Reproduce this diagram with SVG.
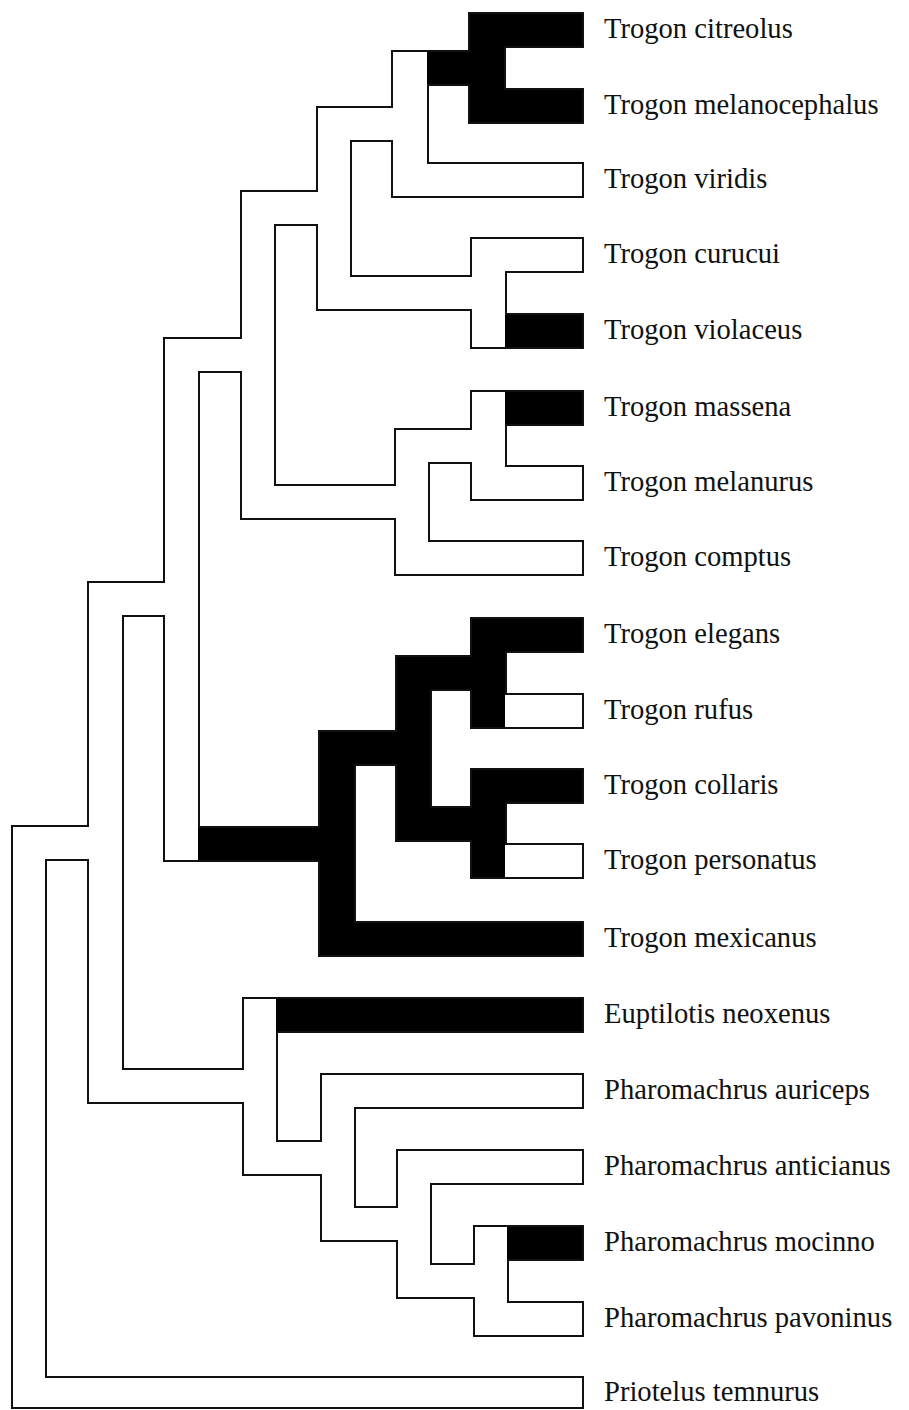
<svg xmlns="http://www.w3.org/2000/svg" xmlns:xlink="http://www.w3.org/1999/xlink" width="909" height="1410" viewBox="0 0 909 1410">
<style>
.outline{fill:#111;stroke:#111;stroke-width:4;stroke-linejoin:miter}
.inner{fill:#fff;stroke:none}
.state{fill:#000;stroke:none}
.lbl{font-family:"Liberation Serif","Times New Roman",serif;font-size:28.6px;fill:#111}
</style>
<defs>
<g id="tree">
<!-- horizontal branch bands -->
<rect x="427" y="52" width="77" height="32"/>
<rect x="427" y="164" width="155" height="32"/>
<rect x="504" y="14" width="78" height="32"/>
<rect x="504" y="90" width="78" height="32"/>
<rect x="350" y="108" width="77" height="32"/>
<rect x="350" y="277" width="155" height="32"/>
<rect x="505" y="239" width="77" height="32"/>
<rect x="505" y="315" width="77" height="32"/>
<rect x="274" y="192" width="76" height="32"/>
<rect x="274" y="486" width="154" height="32"/>
<rect x="428" y="430" width="77" height="32"/>
<rect x="428" y="542" width="154" height="32"/>
<rect x="505" y="392" width="77" height="32"/>
<rect x="505" y="467" width="77" height="32"/>
<rect x="198" y="339" width="76" height="32"/>
<rect x="198" y="828" width="156" height="32"/>
<rect x="354" y="732" width="76" height="32"/>
<rect x="354" y="923" width="228" height="32"/>
<rect x="430" y="657" width="75" height="32"/>
<rect x="430" y="808" width="75" height="32"/>
<rect x="505" y="619" width="77" height="32"/>
<rect x="505" y="695" width="77" height="32"/>
<rect x="505" y="770" width="77" height="32"/>
<rect x="505" y="845" width="77" height="32"/>
<rect x="122" y="583" width="76" height="32"/>
<rect x="122" y="1070" width="154" height="32"/>
<rect x="276" y="999" width="306" height="32"/>
<rect x="276" y="1142" width="78" height="32"/>
<rect x="354" y="1075" width="228" height="32"/>
<rect x="354" y="1208" width="76" height="32"/>
<rect x="430" y="1151" width="152" height="32"/>
<rect x="430" y="1265" width="77" height="32"/>
<rect x="507" y="1227" width="75" height="32"/>
<rect x="507" y="1303" width="75" height="32"/>
<rect x="45" y="827" width="77" height="32"/>
<rect x="45" y="1378" width="537" height="29"/>
<!-- node verticals -->
<rect x="470" y="14" width="34" height="108"/>
<rect x="393" y="52" width="34" height="144"/>
<rect x="472" y="239" width="33" height="108"/>
<rect x="318" y="108" width="32" height="201"/>
<rect x="472" y="392" width="33" height="107"/>
<rect x="396" y="430" width="32" height="144"/>
<rect x="242" y="192" width="32" height="326"/>
<rect x="165" y="339" width="33" height="521"/>
<rect x="320" y="732" width="34" height="223"/>
<rect x="397" y="657" width="33" height="183"/>
<rect x="472" y="619" width="33" height="108"/>
<rect x="472" y="770" width="33" height="107"/>
<rect x="89" y="583" width="33" height="519"/>
<rect x="244" y="999" width="32" height="175"/>
<rect x="322" y="1075" width="32" height="165"/>
<rect x="398" y="1151" width="32" height="146"/>
<rect x="475" y="1227" width="32" height="108"/>
<rect x="13" y="827" width="32" height="580"/>
</g>
</defs>
<g id="connectors">
<use xlink:href="#tree" href="#tree" class="outline"/>
<use xlink:href="#tree" href="#tree" class="inner"/>
<g id="state-black" class="state">
<rect x="427" y="52" width="77" height="32"/>
<rect x="504" y="14" width="78" height="32"/>
<rect x="504" y="90" width="78" height="32"/>
<rect x="470" y="14" width="34" height="108"/>
<rect x="505" y="315" width="77" height="32"/>
<rect x="505" y="392" width="77" height="32"/>
<rect x="198" y="828" width="156" height="32"/>
<rect x="320" y="732" width="34" height="223"/>
<rect x="354" y="732" width="76" height="32"/>
<rect x="354" y="923" width="228" height="32"/>
<rect x="397" y="657" width="33" height="183"/>
<rect x="430" y="657" width="75" height="32"/>
<rect x="430" y="808" width="75" height="32"/>
<rect x="472" y="619" width="33" height="108"/>
<rect x="472" y="770" width="33" height="107"/>
<rect x="505" y="619" width="77" height="32"/>
<rect x="505" y="770" width="77" height="32"/>
<rect x="276" y="999" width="306" height="32"/>
<rect x="507" y="1227" width="75" height="32"/>
</g>
</g>
<g id="tip-citreolus"><text class="lbl" x="604" y="38">Trogon citreolus</text></g>
<g id="tip-melanocephalus"><text class="lbl" x="604" y="114">Trogon melanocephalus</text></g>
<g id="tip-viridis"><text class="lbl" x="604" y="188">Trogon viridis</text></g>
<g id="tip-curucui"><text class="lbl" x="604" y="263">Trogon curucui</text></g>
<g id="tip-violaceus"><text class="lbl" x="604" y="339">Trogon violaceus</text></g>
<g id="tip-massena"><text class="lbl" x="604" y="416">Trogon massena</text></g>
<g id="tip-melanurus"><text class="lbl" x="604" y="491">Trogon melanurus</text></g>
<g id="tip-comptus"><text class="lbl" x="604" y="566">Trogon comptus</text></g>
<g id="tip-elegans"><text class="lbl" x="604" y="643">Trogon elegans</text></g>
<g id="tip-rufus"><text class="lbl" x="604" y="719">Trogon rufus</text></g>
<g id="tip-collaris"><text class="lbl" x="604" y="794">Trogon collaris</text></g>
<g id="tip-personatus"><text class="lbl" x="604" y="869">Trogon personatus</text></g>
<g id="tip-mexicanus"><text class="lbl" x="604" y="947">Trogon mexicanus</text></g>
<g id="tip-euptilotis"><text class="lbl" x="604" y="1023">Euptilotis neoxenus</text></g>
<g id="tip-auriceps"><text class="lbl" x="604" y="1099">Pharomachrus auriceps</text></g>
<g id="tip-anticianus"><text class="lbl" x="604" y="1175">Pharomachrus anticianus</text></g>
<g id="tip-mocinno"><text class="lbl" x="604" y="1251">Pharomachrus mocinno</text></g>
<g id="tip-pavoninus"><text class="lbl" x="604" y="1327">Pharomachrus pavoninus</text></g>
<g id="tip-temnurus"><text class="lbl" x="604" y="1401">Priotelus temnurus</text></g>
</svg>
